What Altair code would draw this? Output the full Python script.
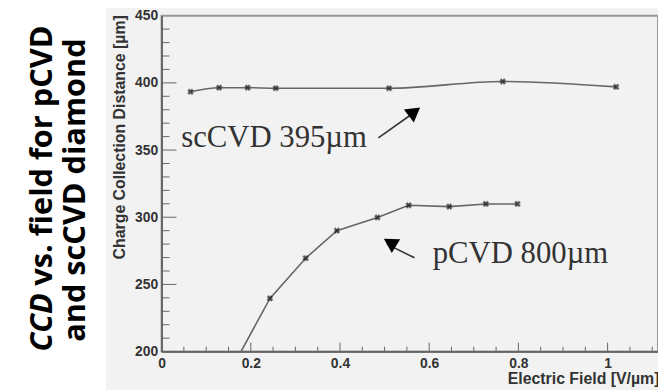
import altair as alt
import pandas as pd

# ---- data ----
sc_field = [0.065, 0.129, 0.193, 0.256, 0.510, 0.765, 1.019]
sc_ccd = [393.4, 396.4, 396.4, 396.0, 396.0, 401.0, 397.0]

p_field = [0.160, 0.243, 0.323, 0.393, 0.484, 0.554, 0.645, 0.727, 0.798]
p_ccd = [189.0, 239.6, 269.5, 290.0, 299.8, 308.9, 307.9, 309.9, 309.9]

y_major = [250, 300, 350, 400]
y_minor = [v for v in range(210, 450, 10) if v % 50 != 0]
x_major = [0.2, 0.4, 0.6, 0.8, 1.0]
x_minor = [0.05, 0.1, 0.15, 0.25, 0.3, 0.35, 0.45, 0.5, 0.55, 0.65, 0.7, 0.75,
           0.85, 0.9, 0.95, 1.05, 1.1]
x_labels = [0, 0.2, 0.4, 0.6, 0.8, 1.0]
y_labels = [200, 250, 300, 350, 400, 450]

ann_text = ["scCVD 395µm", "pCVD 800µm"]
ann_x = [0.044, 0.608]
ann_y = [351.9, 265.6]

arrow_tail_x = [0.486, 0.567]
arrow_tail_y = [359.1, 269.8]
arrow_tip_x = [0.575, 0.505]
arrow_tip_y = [380.0, 280.0]
head_x = [0.567, 0.512]
head_y = [378.5, 281.2]
head_angle = [53, 301]

W, H = 501, 339
xs = alt.Scale(domain=[0, 1.113], nice=False, zero=False)
ys = alt.Scale(domain=[200, 450], nice=False, zero=False)

xaxis = alt.Axis(values=x_labels, format="~g", tickSize=0, grid=False,
                 domainColor="#555", domainWidth=1.5, labelFont="Liberation Sans",
                 labelFontWeight="bold", labelFontSize=14, labelColor="#333",
                 labelPadding=5, title="Electric Field [V/µm]", titleFont="Liberation Sans",
                 titleFontWeight="bold", titleFontSize=16, titleColor="#333",
                 titleAnchor="end", titleAlign="right", titleX=W + 1, titleY=32,
                 titleBaseline="alphabetic", labelFlush=False)
yaxis = alt.Axis(values=y_labels, tickSize=0, grid=False,
                 domainColor="#555", domainWidth=1.5, labelFont="Liberation Sans",
                 labelFontWeight="bold", labelFontSize=14, labelColor="#333",
                 labelPadding=4, title="Charge Collection Distance [µm]",
                 titleFont="Liberation Sans", titleFontWeight="bold", titleFontSize=16,
                 titleColor="#333", titleAngle=270, titleAlign="right",
                 titleAnchor="end", titleX=-42, titleY=-1, titleBaseline="middle",
                 labelFlush=False)

X = alt.X("x:Q", scale=xs, axis=xaxis)
Y = alt.Y("y:Q", scale=ys, axis=yaxis)

sc = pd.DataFrame({"x": sc_field, "y": sc_ccd})
pc = pd.DataFrame({"x": p_field, "y": p_ccd})
one = pd.DataFrame({"a": [0]})

white_left = alt.Chart(one).mark_rect(color="white").encode(
    x=alt.value(-170), x2=alt.value(-56), y=alt.value(-20), y2=alt.value(H + 50))
white_top = alt.Chart(one).mark_rect(color="white").encode(
    x=alt.value(-170), x2=alt.value(W + 20), y=alt.value(-20), y2=alt.value(-8))

sc_line = alt.Chart(sc).mark_line(color="#666", strokeWidth=1.6, interpolate="monotone",
                                  clip=True).encode(x=X, y=Y)
p_line = alt.Chart(pc).mark_line(color="#666", strokeWidth=1.6, clip=True).encode(x=X, y=Y)
pts = alt.Chart(pd.concat([sc, pc])).mark_point(
    shape="cross", angle=45, filled=True, size=40, color="#111", clip=True,
    stroke="#777", strokeWidth=0.6).encode(x=X, y=Y)

ymaj = alt.Chart(pd.DataFrame({"y": y_major})).mark_rule(color="#666").encode(
    y=Y, x=alt.value(0), x2=alt.value(15))
ymin = alt.Chart(pd.DataFrame({"y": y_minor})).mark_rule(color="#666").encode(
    y=Y, x=alt.value(0), x2=alt.value(8))
xmaj = alt.Chart(pd.DataFrame({"x": x_major})).mark_rule(color="#666").encode(
    x=X, y=alt.value(H), y2=alt.value(H - 9))
xmin = alt.Chart(pd.DataFrame({"x": x_minor})).mark_rule(color="#666").encode(
    x=X, y=alt.value(H), y2=alt.value(H - 5))

ann = alt.Chart(pd.DataFrame({"x": ann_x, "y": ann_y, "t": ann_text})).mark_text(
    font="Liberation Serif", fontSize=31, color="#333", align="left",
    baseline="alphabetic").encode(x=X, y=Y, text="t:N")

arr = pd.DataFrame({"x": arrow_tail_x, "y": arrow_tail_y, "x2": arrow_tip_x,
                    "y2": arrow_tip_y})
arrows = alt.Chart(arr).mark_rule(color="#333", strokeWidth=1.6).encode(
    x=X, y=Y, x2="x2:Q", y2="y2:Q")
heads = alt.Chart(pd.DataFrame({"x": head_x, "y": head_y, "a": head_angle})).mark_point(
    shape="triangle-up", filled=True, size=270, color="#000", opacity=1).encode(
    x=X, y=Y, angle=alt.Angle("a:Q", scale=None))

tfont = "Open Sans"
tsize = 31
t1a = alt.Chart(one).mark_text(text="CCD", font=tfont, fontWeight="bold", fontStyle="italic",
                               fontSize=tsize, angle=270, align="left", baseline="middle",
                               color="#000").encode(x=alt.value(-120), y=alt.value(339))
t1b = alt.Chart(one).mark_text(text="vs. field for pCVD", font=tfont, fontWeight="bold",
                               fontSize=tsize, angle=270, align="right", baseline="middle",
                               color="#000").encode(x=alt.value(-120), y=alt.value(10))
t2 = alt.Chart(one).mark_text(text="and scCVD diamond", font=tfont, fontWeight="bold",
                              fontSize=tsize, angle=270, align="center", baseline="middle",
                              color="#000").encode(x=alt.value(-86), y=alt.value(176))

chart = alt.layer(white_left, white_top, ymin, ymaj, xmin, xmaj, sc_line, p_line, pts,
                  arrows, heads, ann, t1a, t1b, t2).properties(
    width=W, height=H,
    padding={"left": 155, "top": 6, "right": 0, "bottom": 37},
    autosize=alt.AutoSizeParams(type="none"),
    background="#f2f2f2",
).configure_view(stroke="#999", strokeWidth=2)

chart.save("out.html", embed_options={"renderer": "svg", "actions": False})
